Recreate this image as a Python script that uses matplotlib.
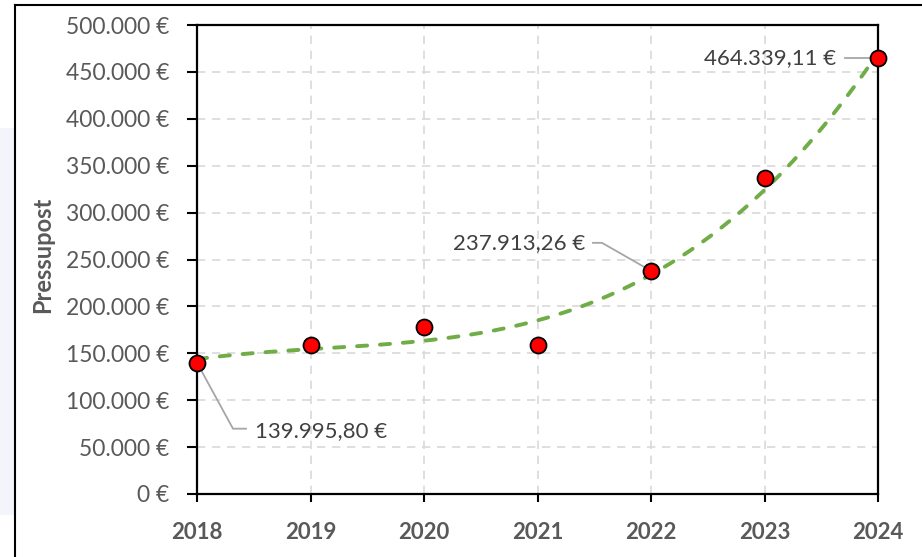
import numpy as np
import matplotlib.pyplot as plt
from matplotlib.ticker import FuncFormatter

jahre = [2018, 2019, 2020, 2021, 2022, 2023, 2024]
pressupost = [139995.80, 158800, 178000, 158900, 237913.26, 336900, 464339.11]

# labels shown next to points: index -> (text offset px, leader vertices px, ha)
etiketten = {
    0: ((58, -68), [(0, 0), (36, -66), (49, -66)], "left"),
    4: ((-66, 28), [(0, 0), (-49, 28), (-58, 28)], "right"),
    6: ((-42, 0), [(0, 0), (-33, 0)], "right"),
}


def euro(v, pos=None):
    s = f"{v:,.0f}".replace(",", ".")
    return f"{s} €"


def euro2(v):
    s = f"{v:,.2f}".replace(",", "X").replace(".", ",").replace("X", ".")
    return f"{s} €"


plt.rcParams['font.family'] = ['Lato', 'DejaVu Sans']

fig = plt.figure(figsize=(9.22, 5.57), dpi=100)
ax = fig.add_axes([197 / 922, 63 / 557, 681 / 922, 469 / 557])

# trendline (polynomial, 3rd order) from the data
x = np.array(jahre, dtype=float)
koef = np.polyfit(x - 2018, pressupost, 3)
xs = np.linspace(2018, 2024, 200)
ax.plot(xs, np.polyval(koef, xs - 2018), color="#70AD47", lw=2.8,
        ls=(0, (2.6, 3.3)), dash_capstyle="round", zorder=3, clip_on=False)

ax.plot(jahre, pressupost, "o", ms=11.5, mfc="red", mec="black", mew=1.3,
        zorder=4, clip_on=False)

ax.set_xlim(2018, 2024)
ax.set_ylim(0, 500000)
ax.set_xticks(jahre)
ax.set_yticks(np.arange(0, 500001, 50000))
ax.yaxis.set_major_formatter(FuncFormatter(euro))
ax.grid(True, color="#D9D9D9", ls=(0, (5, 4)), lw=1.2)
ax.set_axisbelow(True)

for sp in ax.spines.values():
    sp.set_color("black")
    sp.set_linewidth(1.6)

ax.tick_params(axis="y", length=7, width=1.5, pad=13, labelsize=16.5,
               labelcolor="#595959")
ax.tick_params(axis="x", length=6, width=1.5, pad=14, labelsize=16,
               labelcolor="#595959")
for t in ax.get_xticklabels():
    t.set_fontweight("bold")

ax.set_ylabel("Pressupost", fontsize=17, fontweight="bold", color="#595959")
ax.yaxis.set_label_coords(-0.21, 0.51)

fig.canvas.draw()
for i, (txt_off, pfad, ha) in etiketten.items():
    px, py = ax.transData.transform((jahre[i], pressupost[i]))
    pts = [ax.transData.inverted().transform((px + dx, py + dy)) for dx, dy in pfad]
    ax.plot([p[0] for p in pts], [p[1] for p in pts], color="#A6A6A6", lw=1.3,
            zorder=2, clip_on=False)
    tx, ty = ax.transData.inverted().transform((px + txt_off[0], py + txt_off[1]))
    ax.text(tx, ty, euro2(pressupost[i]), ha=ha, va="center", fontsize=16,
            color="#404040", zorder=5)

# chart frame of the screenshot
fig.add_artist(plt.Rectangle((0, 42 / 557), 14 / 922, 387 / 557, color="#F2F5FA",
                             transform=fig.transFigure, lw=0))
fig.add_artist(plt.Line2D([15 / 922, 15 / 922], [0, 552 / 557], color="black",
                          lw=1.5, transform=fig.transFigure))
fig.add_artist(plt.Line2D([15 / 922, 1], [552 / 557, 552 / 557], color="black",
                          lw=1.5, transform=fig.transFigure))

fig.savefig("out.png", dpi=100)
